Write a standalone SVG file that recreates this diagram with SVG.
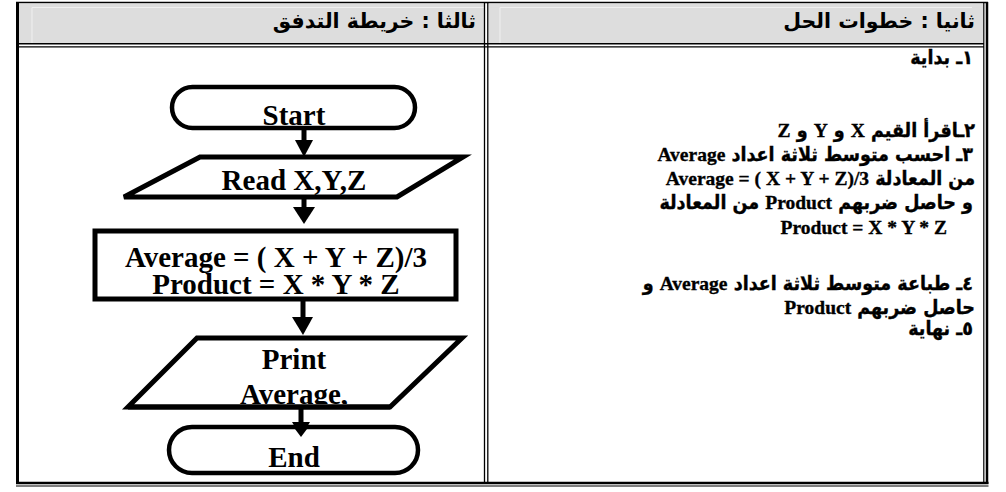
<svg xmlns="http://www.w3.org/2000/svg" width="1006" height="492" viewBox="0 0 1006 492">
  <defs>
    <style>
      .fc { font-family: 'Liberation Serif', serif; font-weight: bold; font-size: 29px; text-anchor: middle; fill: #000; }
      .shape { fill: #fff; stroke: #000; stroke-width: 5; stroke-linejoin: miter; }
      .term { fill: #fff; stroke: #000; stroke-width: 4.5; }
      .shaft { stroke: #000; stroke-width: 5; fill: none; }
      .head { fill: #000; stroke: none; }
      .rt { font-family: 'Liberation Serif', 'DejaVu Sans', serif; font-weight: bold; font-size: 19.5px; direction: rtl; unicode-bidi: embed; text-anchor: start; fill: #000; stroke: #000; stroke-width: 0.35; }
      .a { font-family: 'DejaVu Sans Condensed', 'DejaVu Sans', sans-serif; font-stretch: condensed; font-weight: bold; font-size: 19.5px; }
      .hd { font-family: 'DejaVu Sans', 'Liberation Sans', sans-serif; font-weight: bold; font-size: 20.5px; direction: rtl; unicode-bidi: embed; text-anchor: start; fill: #000; }
      .rule { stroke: #000; fill: none; }
    </style>
    <clipPath id="printClip">
      <rect x="100" y="338" width="380" height="66"/>
    </clipPath>
  </defs>

  <rect width="1006" height="492" fill="#fff"/>

  <!-- table frame -->
  <g id="table">
    <rect x="19" y="4" width="465" height="39" fill="#dddddd"/>
    <rect x="489" y="4" width="494" height="39" fill="#dddddd"/>
    <path d="M32 7.5 H484 M32 7.5 V43 M500 7.5 H972 M500 7.5 V43" stroke="#f0f0f0" stroke-width="1" fill="none"/>
    <line class="rule" x1="16" y1="2.5" x2="988" y2="2.5" stroke-width="1.3"/>
    <line class="rule" x1="17.5" y1="2" x2="17.5" y2="484" stroke-width="3"/>
    <line class="rule" x1="987" y1="2" x2="987" y2="484" stroke-width="2.5"/>
    <line class="rule" x1="983.8" y1="2" x2="983.8" y2="482" stroke-width="1.2"/>
    <line class="rule" x1="16" y1="483" x2="988.5" y2="483" stroke-width="2.5"/>
    <line class="rule" x1="16" y1="486" x2="988.5" y2="486" stroke-width="1.2"/>
    <line class="rule" x1="19" y1="43.8" x2="984" y2="43.8" stroke-width="1.4"/>
    <line class="rule" x1="19" y1="46.9" x2="984" y2="46.9" stroke-width="1.3"/>
    <line class="rule" x1="484.5" y1="2" x2="484.5" y2="483" stroke-width="1.3"/>
    <line class="rule" x1="487.8" y1="2" x2="487.8" y2="483" stroke-width="1.3"/>
  </g>

  <!-- headers -->
  <text class="hd" x="476" y="28">ثالثا : خريطة التدفق</text>
  <text class="hd" x="975" y="28">ثانيا : خطوات الحل</text>

  <!-- solution steps -->
  <g id="steps">
    <text class="rt" x="973" y="64"><tspan class="a">١ـ بداية</tspan></text>
    <text class="rt" x="975" y="137"><tspan class="a">٢ـاقرأ القيم </tspan>X<tspan class="a"> و  </tspan>Y<tspan class="a"> و </tspan>Z</text>
    <text class="rt" x="973" y="161"><tspan class="a">٣ـ احسب  متوسط ثلاثة اعداد </tspan>Average</text>
    <text class="rt" x="975" y="185"><tspan class="a">من المعادلة </tspan>Average = ( X + Y + Z)/3</text>
    <text class="rt" x="973" y="209"><tspan class="a">و حاصل ضربهم </tspan>Product<tspan class="a"> من المعادلة</tspan></text>
    <text class="rt" x="947" y="234" style="direction:ltr;text-anchor:end">Product = X * Y * Z</text>
    <text class="rt" x="973" y="290"><tspan class="a">٤ـ طباعة  متوسط ثلاثة اعداد </tspan>Average<tspan class="a"> و</tspan></text>
    <text class="rt" x="975" y="314"><tspan class="a">حاصل ضربهم </tspan>Product</text>
    <text class="rt" x="973" y="335"><tspan class="a">٥ـ نهاية</tspan></text>
  </g>

  <!-- connectors -->
  <g id="connectors">
    <line class="shaft" x1="304" y1="128" x2="304" y2="142"/>
    <polygon class="head" points="295,140 313,140 304,157"/>
    <line class="shaft" x1="304" y1="197" x2="304" y2="209"/>
    <polygon class="head" points="293,207 315,207 304,224"/>
    <line class="shaft" x1="303" y1="300" x2="303" y2="319"/>
    <polygon class="head" points="292,317 313,317 303,335"/>
    <line class="shaft" x1="301" y1="407" x2="301" y2="424"/>
    <polygon class="head" points="292,422 310,422 301,437"/>
  </g>

  <!-- flowchart nodes -->
  <g id="start">
    <rect class="term" x="172" y="87" width="243" height="41" rx="20.5"/>
    <text class="fc" x="294" y="125">Start</text>
  </g>
  <g id="read">
    <polygon class="shape" points="200,157 463,157 397,197 124,197"/>
    <text class="fc" x="294" y="190">Read X,Y,Z</text>
  </g>
  <g id="process">
    <rect class="shape" x="95" y="231" width="361" height="68"/>
    <text class="fc" x="276" y="267">Average = ( X + Y + Z)/3</text>
    <text class="fc" x="276" y="294">Product = X * Y * Z</text>
  </g>
  <g id="print">
    <polygon class="shape" points="197,338 462,338 390,407 128,407"/>
    <text class="fc" x="294" y="369">Print</text>
    <text class="fc" x="294" y="404" clip-path="url(#printClip)">Average,</text>
    <line x1="128" y1="407" x2="390" y2="407" stroke="#000" stroke-width="5"/>
  </g>
  <g id="end">
    <rect class="term" x="169" y="427" width="249" height="46" rx="23"/>
    <polygon class="head" points="292,425 310,425 301,437"/>
    <text class="fc" x="294" y="467">End</text>
  </g>
</svg>
